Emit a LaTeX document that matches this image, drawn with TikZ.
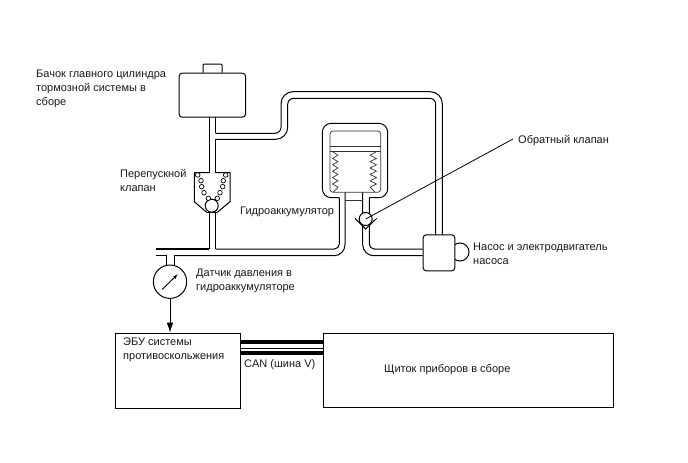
\documentclass[tikz,border=0pt]{standalone}
\usepackage{fontspec}
\setmainfont{Liberation Sans}
\usetikzlibrary{arrows.meta}
\tikzset{
  line/.style={line width=1pt,black},
  thinline/.style={line width=.7pt,black!80},
  lab/.style={anchor=west,inner sep=0pt,align=left,font=\fontsize{11}{14}\selectfont,text=black!90},
  bead/.style={circle,draw,line width=.7pt,fill=white,inner sep=0pt,minimum size=4.6pt},
  unitbox/.style={draw,line width=.9pt,fill=white,inner sep=0pt,anchor=north west}
}
\begin{document}
\begin{tikzpicture}[x=1pt,y=-1pt]
\useasboundingbox (0,0) rectangle (688,463);

% reservoir
\draw[line,fill=white,rounded corners=1pt] (203,72.7) -- (203,64) -- (222,64) -- (222,72.7);
\node[draw,line width=1pt,rounded corners=3pt,minimum width=66.3pt,minimum height=44pt,inner sep=0pt,anchor=north west] (tank) at (178.7,72.7) {};

% pipes between reservoir, bypass valve and pump
\draw[line] (209,116.7) -- (209,172.7);
\draw[line] (215.7,116.7) -- (215.7,133.3);
\draw[line] (215.7,139.3) -- (215.7,172.7);
\draw[line] (209,212) -- (209,249);
\draw[line] (215.7,212) -- (215.7,249);
\draw[line] (215.7,133.3) [rounded corners=6pt] -- (281,133.3) [rounded corners=12pt] -- (281,91.7) [rounded corners=12pt] -- (442.3,91.7) -- (442.3,234.3);
\draw[line] (215.7,139.3) [rounded corners=12pt] -- (287.7,139.3) [rounded corners=6pt] -- (287.7,98.3) [rounded corners=6pt] -- (435.7,98.3) -- (435.7,234.3);

% main line and gauge tap
\draw[line width=1.1pt] (155.7,249) -- (209,249);
\draw[line width=1.1pt] (155.7,255.7) -- (166.7,255.7) -- (166.7,265.5);
\draw[line] (174,265.5) -- (174,255.7);
\draw[line] (215.7,249) [rounded corners=5pt] -- (339.3,249) -- (339.3,197.7);
\draw[line] (174,255.7) [rounded corners=11pt] -- (345,255.7) -- (345,192.3);
\draw[line] (362.7,192.3) [rounded corners=11pt] -- (362.7,255.7) -- (422.7,255.7);
\draw[line] (369.3,197.7) [rounded corners=5pt] -- (369.3,249) -- (422.7,249);

% accumulator
\draw[line,rounded corners=9pt] (339.3,197.7) -- (322.3,197.7) -- (322.3,123.3) -- (387.7,123.3) -- (387.7,197.7) -- (369.3,197.7);
\draw[thinline,rounded corners=3pt] (330,192.3) rectangle (380.7,131);
\draw[thinline] (345,200) -- (362.7,200);
\draw[thinline] (330,146.7) -- (380.7,146.7);
\draw[thinline] (330,151.7) -- (380.7,151.7);
\draw[thinline,line join=round] (333,152) -- (338,155.2) -- (332.5,158.4) -- (338,161.6) -- (332.5,164.8) -- (338,168) -- (332.5,171.2) -- (338,174.4) -- (332.5,177.6) -- (338,180.8) -- (332.5,184) -- (338,187.2) -- (333.5,192);
\draw[thinline,line join=round] (376,152) -- (370,155.2) -- (376.5,158.4) -- (370,161.6) -- (376.5,164.8) -- (370,168) -- (376.5,171.2) -- (370,174.4) -- (376.5,177.6) -- (370,180.8) -- (376.5,184) -- (370,187.2) -- (375,192);

% check valve with leader
\draw[line] (355,218.3) -- (365.7,229) -- (376.7,218.3);
\node[circle,draw,line width=1pt,fill=white,minimum size=13pt,inner sep=0pt] (check) at (365.7,219) {};
\coordinate (checktip) at (513,139);
\draw[line width=.8pt] (check.center) -- (checktip);

% pump and motor
\draw[line] (460,252) circle (9);
\node[unitbox,line width=1pt,rounded corners=3pt,minimum width=31.6pt,minimum height=36pt] (pump) at (422.7,234.3) {};

% bypass valve
\draw[line,fill=white,line join=round] (194.3,172.7) -- (230,172.7) -- (230,201.7) -- (217.3,212.3) -- (206.7,212.3) -- (194.3,201.7) -- cycle;
\draw[line,white] (209.5,172.7) -- (215.2,172.7);
\node[circle,draw,line width=1pt,fill=white,minimum size=13pt,inner sep=0pt] (ball) at (211.7,205.7) {};
\foreach \px/\py [count=\i] in {197.7/175,201/180.7,201.7/186.7,204/192.7,208.3/198.3,225.7/175,223.3/180.7,222.7/186.7,220/192.7,217.3/198.3}
  \node[bead] (bead\i) at (\px,\py) {};

% pressure gauge
\node[circle,draw,line width=1pt,fill=white,minimum size=33.4pt,inner sep=0pt] (gauge) at (170,281.7) {};
\coordinate (needlefrom) at (162.3,289.3);
\coordinate (needleto) at (177.9,274.1);
\draw[line width=.9pt,-{Latex[length=5pt,width=3.6pt]}] (needlefrom) -- (needleto);

% control units and CAN bus
\node[unitbox,minimum width=125.3pt,minimum height=75.6pt] (ecu) at (114.7,332.7) {};
\node[unitbox,minimum width=289.7pt,minimum height=74.6pt] (cluster) at (323.3,332.7) {};
\draw[line width=.9pt,-{Latex[length=10pt,width=6.5pt]}] (gauge.south) -- (gauge.south |- ecu.north);
\draw[line width=4pt] (ecu.east |- 0,342.3) -- (cluster.west |- 0,342.3);
\draw[line width=1pt] (ecu.east |- 0,348.3) -- (cluster.west |- 0,348.3);
\draw[line width=4pt] (ecu.east |- 0,353.3) -- (cluster.west |- 0,353.3);

% labels
\node[lab] (tanklabel) at (36,89) {Бачок главного цилиндра\\тормозной системы в\\сборе};
\node[lab] (bypasslabel) at (120,180) {Перепускной\\клапан};
\node[lab] (acclabel) at (240,212) {Гидроаккумулятор};
\node[lab] (checklabel) at (518,140.5) {Обратный клапан};
\node[lab] (pumplabel) at (473,253.5) {Насос и электродвигатель\\насоса};
\node[lab] (gaugelabel) at (196,281) {Датчик давления в\\гидроаккумуляторе};
\node[lab] (eculabel) at (123,350) {ЭБУ системы\\противоскольжения};
\node[lab] (canlabel) at (244,364.5) {CAN (шина V)};
\node[lab] (clusterlabel) at (384,370) {Щиток приборов в сборе};
\end{tikzpicture}
\end{document}
